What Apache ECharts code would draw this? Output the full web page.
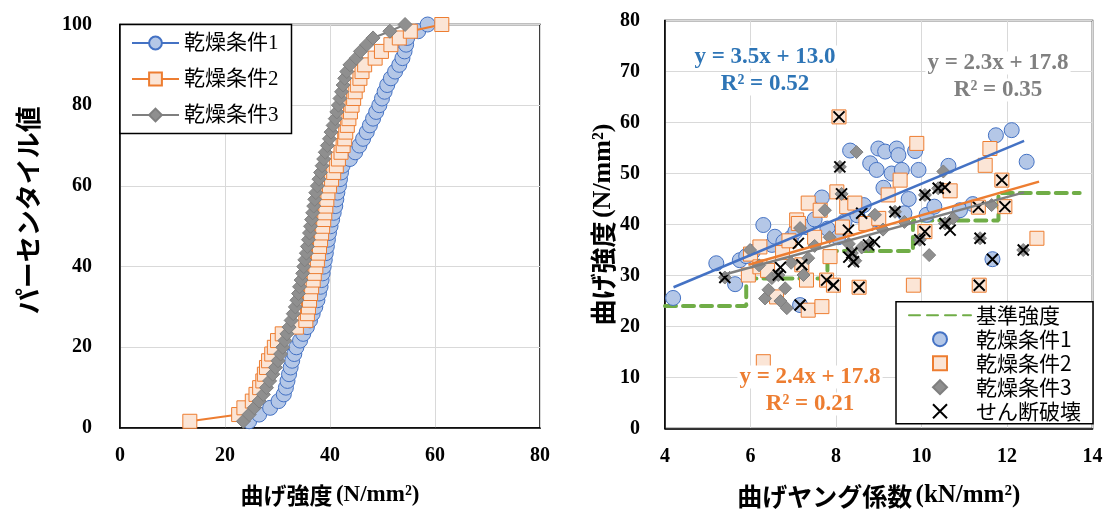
<!DOCTYPE html>
<html><head><meta charset="utf-8">
<script src="https://cdn.jsdelivr.net/npm/echarts@6/dist/echarts.min.js"></script>
<style>html,body{margin:0;padding:0;background:#fff}#c{width:1107px;height:515px}</style>
</head><body><div id="c"></div>
<script>
// ---------- Left chart: cumulative distribution (sorted bending strength, N/mm2) ----------
const leftXTicks = [0, 20, 40, 60, 80];
const leftYTicks = [0, 20, 40, 60, 80, 100];
const strengthCond1 = [24.6,26.5,28.6,30.2,31.2,31.6,31.9,32.2,32.5,32.8,33.2,33.6,34.3,34.9,35.6,36.2,36.7,37.2,37.6,37.9,38.2,38.4,38.6,38.8,39.0,39.2,39.4,39.6,39.8,40.1,40.4,40.7,41.0,41.2,41.4,41.7,41.9,42.1,42.4,43.8,44.8,45.6,46.3,47.0,47.6,48.2,48.8,49.4,49.9,50.4,50.9,51.6,52.4,53.2,53.8,54.2,54.5,54.7,56.8,58.6];
const strengthCond2 = [13.3,22.6,23.6,25.2,25.9,26.6,27.2,27.5,27.9,28.3,28.9,29.4,30.0,30.9,33.6,35.4,35.7,35.9,36.1,36.3,36.5,36.8,37.0,37.3,37.6,37.8,38.0,38.2,38.4,38.6,38.8,39.0,39.2,39.4,39.6,39.9,40.3,40.7,41.2,41.6,42.1,42.5,42.8,43.0,43.3,43.6,43.9,44.2,44.5,44.8,45.2,45.7,46.1,46.6,48.6,49.8,51.6,53.2,55.3,61.3];
const strengthCond3 = [23.5,24.6,25.6,26.5,27.3,27.9,28.5,29.1,29.6,30.1,30.6,31.0,31.4,31.8,32.2,32.6,33.0,33.4,33.7,34.0,34.2,34.5,34.8,35.0,35.2,35.5,35.7,35.9,36.1,36.3,36.5,36.7,36.9,37.1,37.3,37.6,37.9,38.2,38.5,38.8,39.1,39.5,39.9,40.2,40.6,41.0,41.3,41.6,41.9,42.2,42.5,42.8,43.2,43.8,45.0,45.8,47.0,48.2,51.4,54.3];

// ---------- Right chart: MOE (kN/mm2) vs bending strength (N/mm2) ----------
const rightXTicks = [4, 6, 8, 10, 12, 14];
const rightYTicks = [0, 10, 20, 30, 40, 50, 60, 70, 80];
const scatterCond1 = [[4.19,25.6],[5.2,32.4],[5.64,28.3],[5.75,33.0],[5.9,33.8],[6.05,34.6],[6.3,39.9],[6.5,36.0],[6.57,37.6],[6.77,36.6],[6.95,37.4],[7.05,38.6],[7.16,24.2],[7.3,39.5],[7.5,41.0],[7.67,45.3],[7.8,39.2],[8.05,37.5],[8.2,40.6],[8.33,54.5],[8.5,41.8],[8.65,43.8],[8.8,52.0],[8.95,50.7],[8.99,54.9],[9.11,47.2],[9.15,54.3],[9.3,50.0],[9.42,54.9],[9.46,53.6],[9.54,50.7],[9.7,45.0],[9.85,54.4],[9.93,50.7],[10.12,41.9],[10.3,43.5],[10.63,51.5],[10.9,42.8],[11.2,44.0],[11.66,33.2],[11.74,57.5],[12.11,58.5],[12.46,52.3],[8.9,41.0],[9.6,42.2]];
const scatterCond2 = [[5.95,30.1],[6.0,34.2],[6.22,31.7],[6.22,35.6],[6.3,13.1],[6.4,31.0],[6.61,25.8],[6.75,34.5],[6.9,36.8],[7.08,40.9],[7.12,40.2],[7.2,32.1],[7.31,29.1],[7.35,23.2],[7.35,44.2],[7.5,37.5],[7.63,42.8],[7.67,23.9],[7.78,29.1],[7.86,33.7],[7.94,28.1],[8.02,46.4],[8.07,61.1],[8.15,39.5],[8.25,43.5],[8.44,44.2],[8.54,27.7],[8.7,40.2],[9.0,41.2],[9.22,45.8],[9.5,48.7],[9.81,28.1],[9.89,55.9],[10.08,38.6],[10.67,46.6],[11.33,43.4],[11.35,28.1],[11.49,51.6],[11.6,54.9],[11.88,48.7],[11.95,43.5],[12.7,37.3]];
const scatterCond3 = [[5.4,29.6],[5.99,35.0],[6.2,32.0],[6.34,25.5],[6.42,27.2],[6.5,29.5],[6.65,30.1],[6.7,25.0],[6.81,27.5],[6.85,23.6],[6.95,32.5],[7.16,39.3],[7.24,30.1],[7.35,33.4],[7.5,35.8],[7.74,42.8],[7.85,37.5],[8.09,51.3],[8.13,46.0],[8.3,36.2],[8.37,34.4],[8.45,32.9],[8.48,54.2],[8.6,35.5],[8.76,36.0],[8.91,41.9],[9.1,39.0],[9.38,42.5],[9.6,40.5],[9.96,37.0],[10.08,45.8],[10.18,34.0],[10.39,47.1],[10.51,50.4],[10.55,40.2],[10.74,41.2],[11.37,37.3],[11.64,43.8],[12.38,35.0]];
const scatterShear = [[5.4,29.6],[6.65,30.1],[6.7,31.6],[7.12,36.3],[7.16,24.2],[7.2,32.1],[7.78,29.1],[7.94,28.1],[8.07,61.1],[8.09,51.3],[8.13,46.0],[8.29,38.9],[8.37,34.4],[8.41,32.7],[8.3,33.6],[8.54,27.7],[8.6,42.2],[8.76,36.0],[8.9,36.6],[9.38,42.5],[9.96,37.0],[10.08,38.6],[10.08,45.8],[10.39,47.1],[10.55,47.3],[10.55,40.2],[10.67,38.9],[11.33,43.4],[11.35,28.1],[11.37,37.3],[11.66,33.2],[11.88,48.7],[11.95,43.5],[12.38,35.0]];
const baseStrength = [[4,24.0],[5.9,24.0],[5.9,29.4],[7.8,29.4],[7.8,34.8],[9.8,34.8],[9.8,40.8],[11.8,40.8],[11.8,46.2],[13.7,46.2]];
const trend1 = [[4.2,27.7],[12.4,56.4]];
const trend2 = [[5.95,32.1],[12.75,48.4]];
const trend3 = [[5.35,30.1],[12.4,46.3]];
const eq1 = ['y = 3.5x + 13.0', 'R² = 0.52'];
const eq2 = ['y = 2.4x + 17.8', 'R² = 0.21'];
const eq3 = ['y = 2.3x + 17.8', 'R² = 0.35'];

const BLUE = '#4472c4', BLUE_FILL = '#b4c7e7', ORANGE = '#ed7d31', ORANGE_FILL = '#fbe5d6', GRAY = '#7f7f7f', GRAY_FILL = '#8f8f8f', GREEN = '#70ad47';
const serif = "'Liberation Serif', 'Times New Roman', serif";
const jp = "'Noto Sans CJK JP', sans-serif";
const RECT = 'path://M0,0L10,0L10,10L0,10Z';
const DIAMOND = 'path://M5,0L10,5L5,10L0,5Z';
const CROSS = 'path://M0,0L10,10M10,0L0,10';

function cumulative(arr) { return arr.map((v, i) => [v, (i + 1) / arr.length * 100]); }

const chart = echarts.init(document.getElementById('c'), null, { renderer: 'canvas' });

const tickLabel = { fontFamily: serif, fontWeight: 'bold', fontSize: 20, color: '#000' };
function rich(size) {
  return {
    a: { fontFamily: jp, fontWeight: 'bold', fontSize: size, color: '#000' },
    b: { fontFamily: serif, fontWeight: 'bold', fontSize: size, color: '#000' }
  };
}
const splitLine = { show: true, lineStyle: { color: '#d9d9d9', width: 1 } };

function axisBase(min, max, interval) {
  return {
    type: 'value', min, max, interval,
    axisLine: { show: true, lineStyle: { color: '#000', width: 1.5 } },
    axisTick: { show: false },
    splitLine,
    axisLabel: Object.assign({}, tickLabel)
  };
}

const option = {
  animation: false,
  backgroundColor: '#fff',
  grid: [
    { left: 120, top: 24.5, width: 420, height: 403.5, show: true, borderColor: '#000', borderWidth: 1.5, backgroundColor: 'transparent' },
    { left: 665, top: 20.5, width: 427.5, height: 408, show: true, borderColor: '#000', borderWidth: 1.5, backgroundColor: 'transparent' }
  ],
  xAxis: [
    Object.assign(axisBase(leftXTicks[0], leftXTicks[leftXTicks.length - 1], 20), {
      gridIndex: 0, name: '{a|曲げ強度} {b|(N/mm²)}', nameLocation: 'middle', nameGap: 56,
      nameTextStyle: { rich: rich(23) },
      axisLabel: Object.assign({}, tickLabel, { margin: 18 })
    }),
    Object.assign(axisBase(rightXTicks[0], rightXTicks[rightXTicks.length - 1], 2), {
      gridIndex: 1, name: '{a|曲げヤング係数} {b|(kN/mm²)}', nameLocation: 'middle', nameGap: 55,
      nameTextStyle: { rich: rich(25) },
      axisLabel: Object.assign({}, tickLabel, { margin: 18 })
    })
  ],
  yAxis: [
    Object.assign(axisBase(leftYTicks[0], leftYTicks[leftYTicks.length - 1], 20), {
      gridIndex: 0, name: 'パーセンタイル値', nameLocation: 'middle', nameGap: 79,
      nameTextStyle: { fontFamily: jp, fontWeight: 'bold', fontSize: 26, color: '#000', padding: [0, 0, 0, 32] },
      axisLabel: Object.assign({}, tickLabel, { margin: 28 })
    }),
    Object.assign(axisBase(rightYTicks[0], rightYTicks[rightYTicks.length - 1], 10), {
      gridIndex: 1, name: '{a|曲げ強度} {b|(N/mm²)}', nameLocation: 'middle', nameGap: 38,
      nameTextStyle: { rich: rich(26) },
      axisLabel: Object.assign({}, tickLabel, { margin: 25 })
    })
  ],
  legend: [
    {
      data: ['乾燥条件1', '乾燥条件2', '乾燥条件3'],
      orient: 'vertical', left: 120, top: 24.5,
      padding: [8, 13, 8, 11], itemGap: 15, itemWidth: 47, itemHeight: 16,
      borderColor: '#000', borderWidth: 1.5, backgroundColor: '#fff',
      lineStyle: { width: 2 },
      textStyle: { fontFamily: serif + ", 'Noto Sans CJK JP'", fontSize: 21, color: '#000' }
    },
    {
      data: [
        { name: '基準強度', itemStyle: { color: 'rgba(0,0,0,0)', borderColor: 'rgba(0,0,0,0)', borderWidth: 0, opacity: 0 } },
        'R乾燥条件1', 'R乾燥条件2', 'R乾燥条件3', 'せん断破壊'
      ],
      formatter: n => n.replace(/^R/, ''),
      orient: 'vertical', left: 896, top: 301.7,
      padding: [3, 12, 2, 12], itemGap: 3, itemWidth: 62, itemHeight: 14,
      borderColor: '#000', borderWidth: 1.5, backgroundColor: '#fff',
      textStyle: { fontFamily: jp, fontSize: 21, color: '#000' }
    }
  ],
  series: [
    { name: '乾燥条件1', type: 'line', xAxisIndex: 0, yAxisIndex: 0, data: cumulative(strengthCond1),
      symbol: 'circle', symbolSize: 15, lineStyle: { color: BLUE, width: 2 },
      itemStyle: { color: BLUE_FILL, borderColor: BLUE, borderWidth: 1 }, z: 2 },
    { name: '乾燥条件2', type: 'line', xAxisIndex: 0, yAxisIndex: 0, data: cumulative(strengthCond2),
      symbol: 'rect', symbolSize: 14, lineStyle: { color: ORANGE, width: 2 },
      itemStyle: { color: ORANGE_FILL, borderColor: ORANGE, borderWidth: 1 }, z: 3 },
    { name: '乾燥条件3', type: 'line', xAxisIndex: 0, yAxisIndex: 0, data: cumulative(strengthCond3),
      symbol: 'diamond', symbolSize: 14, lineStyle: { color: GRAY, width: 2 },
      itemStyle: { color: GRAY_FILL, borderColor: GRAY, borderWidth: 1 }, z: 4 },

    { name: '基準強度', type: 'line', xAxisIndex: 1, yAxisIndex: 1, data: baseStrength, symbol: 'none',
      lineStyle: { color: GREEN, width: 4, type: [11, 7], cap: 'round' }, itemStyle: { color: GREEN }, z: 1 },
    { name: 'R乾燥条件1', type: 'scatter', xAxisIndex: 1, yAxisIndex: 1, data: scatterCond1,
      symbol: 'circle', symbolSize: 15, itemStyle: { color: BLUE_FILL, borderColor: BLUE, borderWidth: 1, opacity: 1 }, z: 2 },
    { name: 'R乾燥条件2', type: 'scatter', xAxisIndex: 1, yAxisIndex: 1, data: scatterCond2,
      symbol: RECT, symbolSize: 14, itemStyle: { color: ORANGE_FILL, borderColor: ORANGE, borderWidth: 1, opacity: 1 }, z: 3 },
    { name: 'R乾燥条件3', type: 'scatter', xAxisIndex: 1, yAxisIndex: 1, data: scatterCond3,
      symbol: DIAMOND, symbolSize: 13, itemStyle: { color: GRAY_FILL, borderColor: GRAY, borderWidth: 1, opacity: 1 }, z: 4 },
    { name: 'せん断破壊', type: 'scatter', xAxisIndex: 1, yAxisIndex: 1, data: scatterShear,
      symbol: CROSS, symbolSize: 11,
      itemStyle: { color: 'rgba(0,0,0,0)', borderColor: '#000', borderWidth: 2, opacity: 1 }, z: 5 },
    { name: 't1', type: 'line', xAxisIndex: 1, yAxisIndex: 1, data: trend1, symbol: 'none', lineStyle: { color: BLUE, width: 2.5 }, z: 6, silent: true },
    { name: 't2', type: 'line', xAxisIndex: 1, yAxisIndex: 1, data: trend2, symbol: 'none', lineStyle: { color: ORANGE, width: 2.5 }, z: 6, silent: true },
    { name: 't3', type: 'line', xAxisIndex: 1, yAxisIndex: 1, data: trend3, symbol: 'none', lineStyle: { color: GRAY, width: 2.5 }, z: 6, silent: true }
  ]
};
chart.setOption(option);

// regression equation annotations
function eqText(lines, color, cx, cy) {
  return lines.map((t, i) => ({
    type: 'text', x: cx, y: cy + i * 27, z: 100,
    style: { text: t, fill: color, font: "bold 23px 'Liberation Serif', serif", align: 'center', verticalAlign: 'middle',
      backgroundColor: '#fff', padding: [0, 2] }
  }));
}
chart.setOption({
  graphic: [].concat(
    eqText(eq1, '#2e75b6', 765, 57),
    eqText(eq3, '#808080', 998, 63),
    eqText(eq2, ORANGE, 810, 377)
  )
});
</script></body></html>
